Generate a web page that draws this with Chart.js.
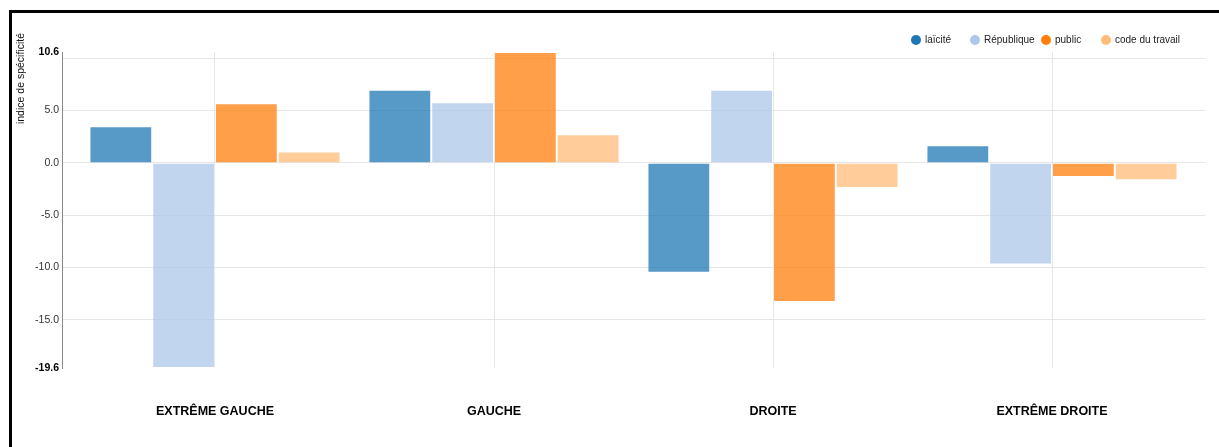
<!DOCTYPE html>
<html lang="fr">
<head>
    <meta charset="UTF-8">
    <title>Indice de spécificité</title>
    <script src="https://cdn.jsdelivr.net/npm/chart.js"></script>
    <style>
        body {
            margin: 0;
            overflow: hidden;
            background: #fff;
            font-family: "Liberation Sans", Arial, sans-serif;
        }
        .frame {
            position: absolute;
            left: 9px;
            top: 10px;
            right: 0;
            bottom: 0;
            border-top: 3px solid #000;
            border-left: 3px solid #000;
        }
        .wrap {
            position: absolute;
            left: 0;
            top: 0;
            width: 1219px;
            height: 447px;
        }
        #legend {
            position: absolute;
            top: 34px;
            left: 911px;
            display: flex;
            font-size: 10px;
            color: #222;
            line-height: 12px;
        }
        #legend .item {
            display: flex;
            align-items: center;
        }
        #legend .dot {
            width: 10px;
            height: 10px;
            border-radius: 50%;
            margin-right: 4px;
        }
    </style>
</head>
<body>
    <div class="frame"></div>
    <div class="wrap"><canvas id="chart"></canvas></div>
    <div id="legend"></div>

    <script>
        const categories = ['EXTRÊME GAUCHE', 'GAUCHE', 'DROITE', 'EXTRÊME DROITE'];
        const labels = ['laïcité', 'République', 'public', 'code du travail'];
        const laicite = [3.5, 7.0, -10.5, 1.7];
        const republique = [-19.6, 5.8, 7.0, -9.7];
        const publicVals = [5.7, 10.6, -13.3, -1.35];
        const codeTravail = [1.1, 2.75, -2.4, -1.65];
        const yTicks = [-19.6, -15, -10, -5, 0, 5, 10, 10.6];
        const yMin = -19.6, yMax = 10.6;

        const fullColors = ['#1f77b4', '#aec7e8', '#ff7f0e', '#ffbb78'];
        const barColors = ['rgba(31,119,180,0.75)', 'rgba(174,199,232,0.75)', 'rgba(255,127,14,0.75)', 'rgba(255,187,120,0.75)'];
        const series = [laicite, republique, publicVals, codeTravail];

        function toPoints(arr) {
            return arr.map((v, i) => ({ x: i, y: v }));
        }

        function isEnd(ctx) {
            return ctx.tick && (ctx.tick.value === yMin || ctx.tick.value === yMax);
        }

        // legend as plain html, items have fixed widths like the original
        const legendWidths = ['59px', '71px', '60px', 'auto'];
        const legendEl = document.getElementById('legend');
        labels.forEach((l, i) => {
            const item = document.createElement('div');
            item.className = 'item';
            item.style.width = legendWidths[i];
            const dot = document.createElement('span');
            dot.className = 'dot';
            dot.style.background = fullColors[i];
            const txt = document.createElement('span');
            txt.textContent = l;
            item.appendChild(dot);
            item.appendChild(txt);
            legendEl.appendChild(item);
        });

        // y axis title sits above the top of the axis, so draw it by hand
        const yTitle = {
            id: 'yTitle',
            afterDraw(chart) {
                const c = chart.ctx;
                c.save();
                c.translate(21, 33);
                c.rotate(-Math.PI / 2);
                c.font = '10.5px "Liberation Sans", Arial, sans-serif';
                c.fillStyle = '#111';
                c.textAlign = 'right';
                c.textBaseline = 'middle';
                c.fillText('indice de spécificité', 0, 0);
                c.restore();
            }
        };

        new Chart(document.getElementById('chart'), {
            type: 'bar',
            data: {
                datasets: series.map((s, i) => ({
                    label: labels[i],
                    data: toPoints(s),
                    backgroundColor: barColors[i],
                    borderColor: 'rgba(255,255,255,0.25)',
                    borderWidth: 1,
                    categoryPercentage: 0.9,
                    barPercentage: 1.0
                }))
            },
            options: {
                responsive: true,
                maintainAspectRatio: false,
                animation: false,
                layout: { padding: { left: 0, right: 14, top: 52, bottom: 0 } },
                plugins: {
                    tooltip: { enabled: false },
                    legend: { display: false }
                },
                scales: {
                    x: {
                        type: 'linear',
                        offset: false,
                        min: -0.5 - 13.5 / 279,
                        max: 3.5 + 13.5 / 279,
                        afterBuildTicks(scale) {
                            scale.ticks = categories.map((c, i) => ({ value: i }));
                        },
                        afterFit(scale) {
                            scale.height = 79;
                        },
                        grid: { color: '#e6e6e6', drawTicks: false, offset: false },
                        border: { display: false },
                        ticks: {
                            autoSkip: false,
                            maxRotation: 0,
                            padding: 36,
                            color: '#000',
                            font: { size: 12.5, weight: 'bold', family: '"Liberation Sans", Arial, sans-serif' },
                            callback: v => categories[v]
                        }
                    },
                    y: {
                        min: yMin,
                        max: yMax,
                        afterBuildTicks(scale) {
                            scale.ticks = yTicks.map(v => ({ value: v }));
                        },
                        afterFit(scale) {
                            scale.width = 62;
                        },
                        grid: {
                            drawTicks: false,
                            color: ctx => isEnd(ctx) ? 'rgba(0,0,0,0)' : '#e6e6e6'
                        },
                        border: { display: true, color: '#8a8a8a', width: 1 },
                        ticks: {
                            autoSkip: false,
                            padding: 3,
                            color: ctx => isEnd(ctx) ? '#000' : '#333',
                            font: ctx => ({
                                size: 10.5,
                                family: '"Liberation Sans", Arial, sans-serif',
                                weight: isEnd(ctx) ? 'bold' : 'normal'
                            }),
                            callback: v => v === 10 ? '' : v.toFixed(1)
                        }
                    }
                }
            },
            plugins: [yTitle]
        });
    </script>
</body>
</html>
